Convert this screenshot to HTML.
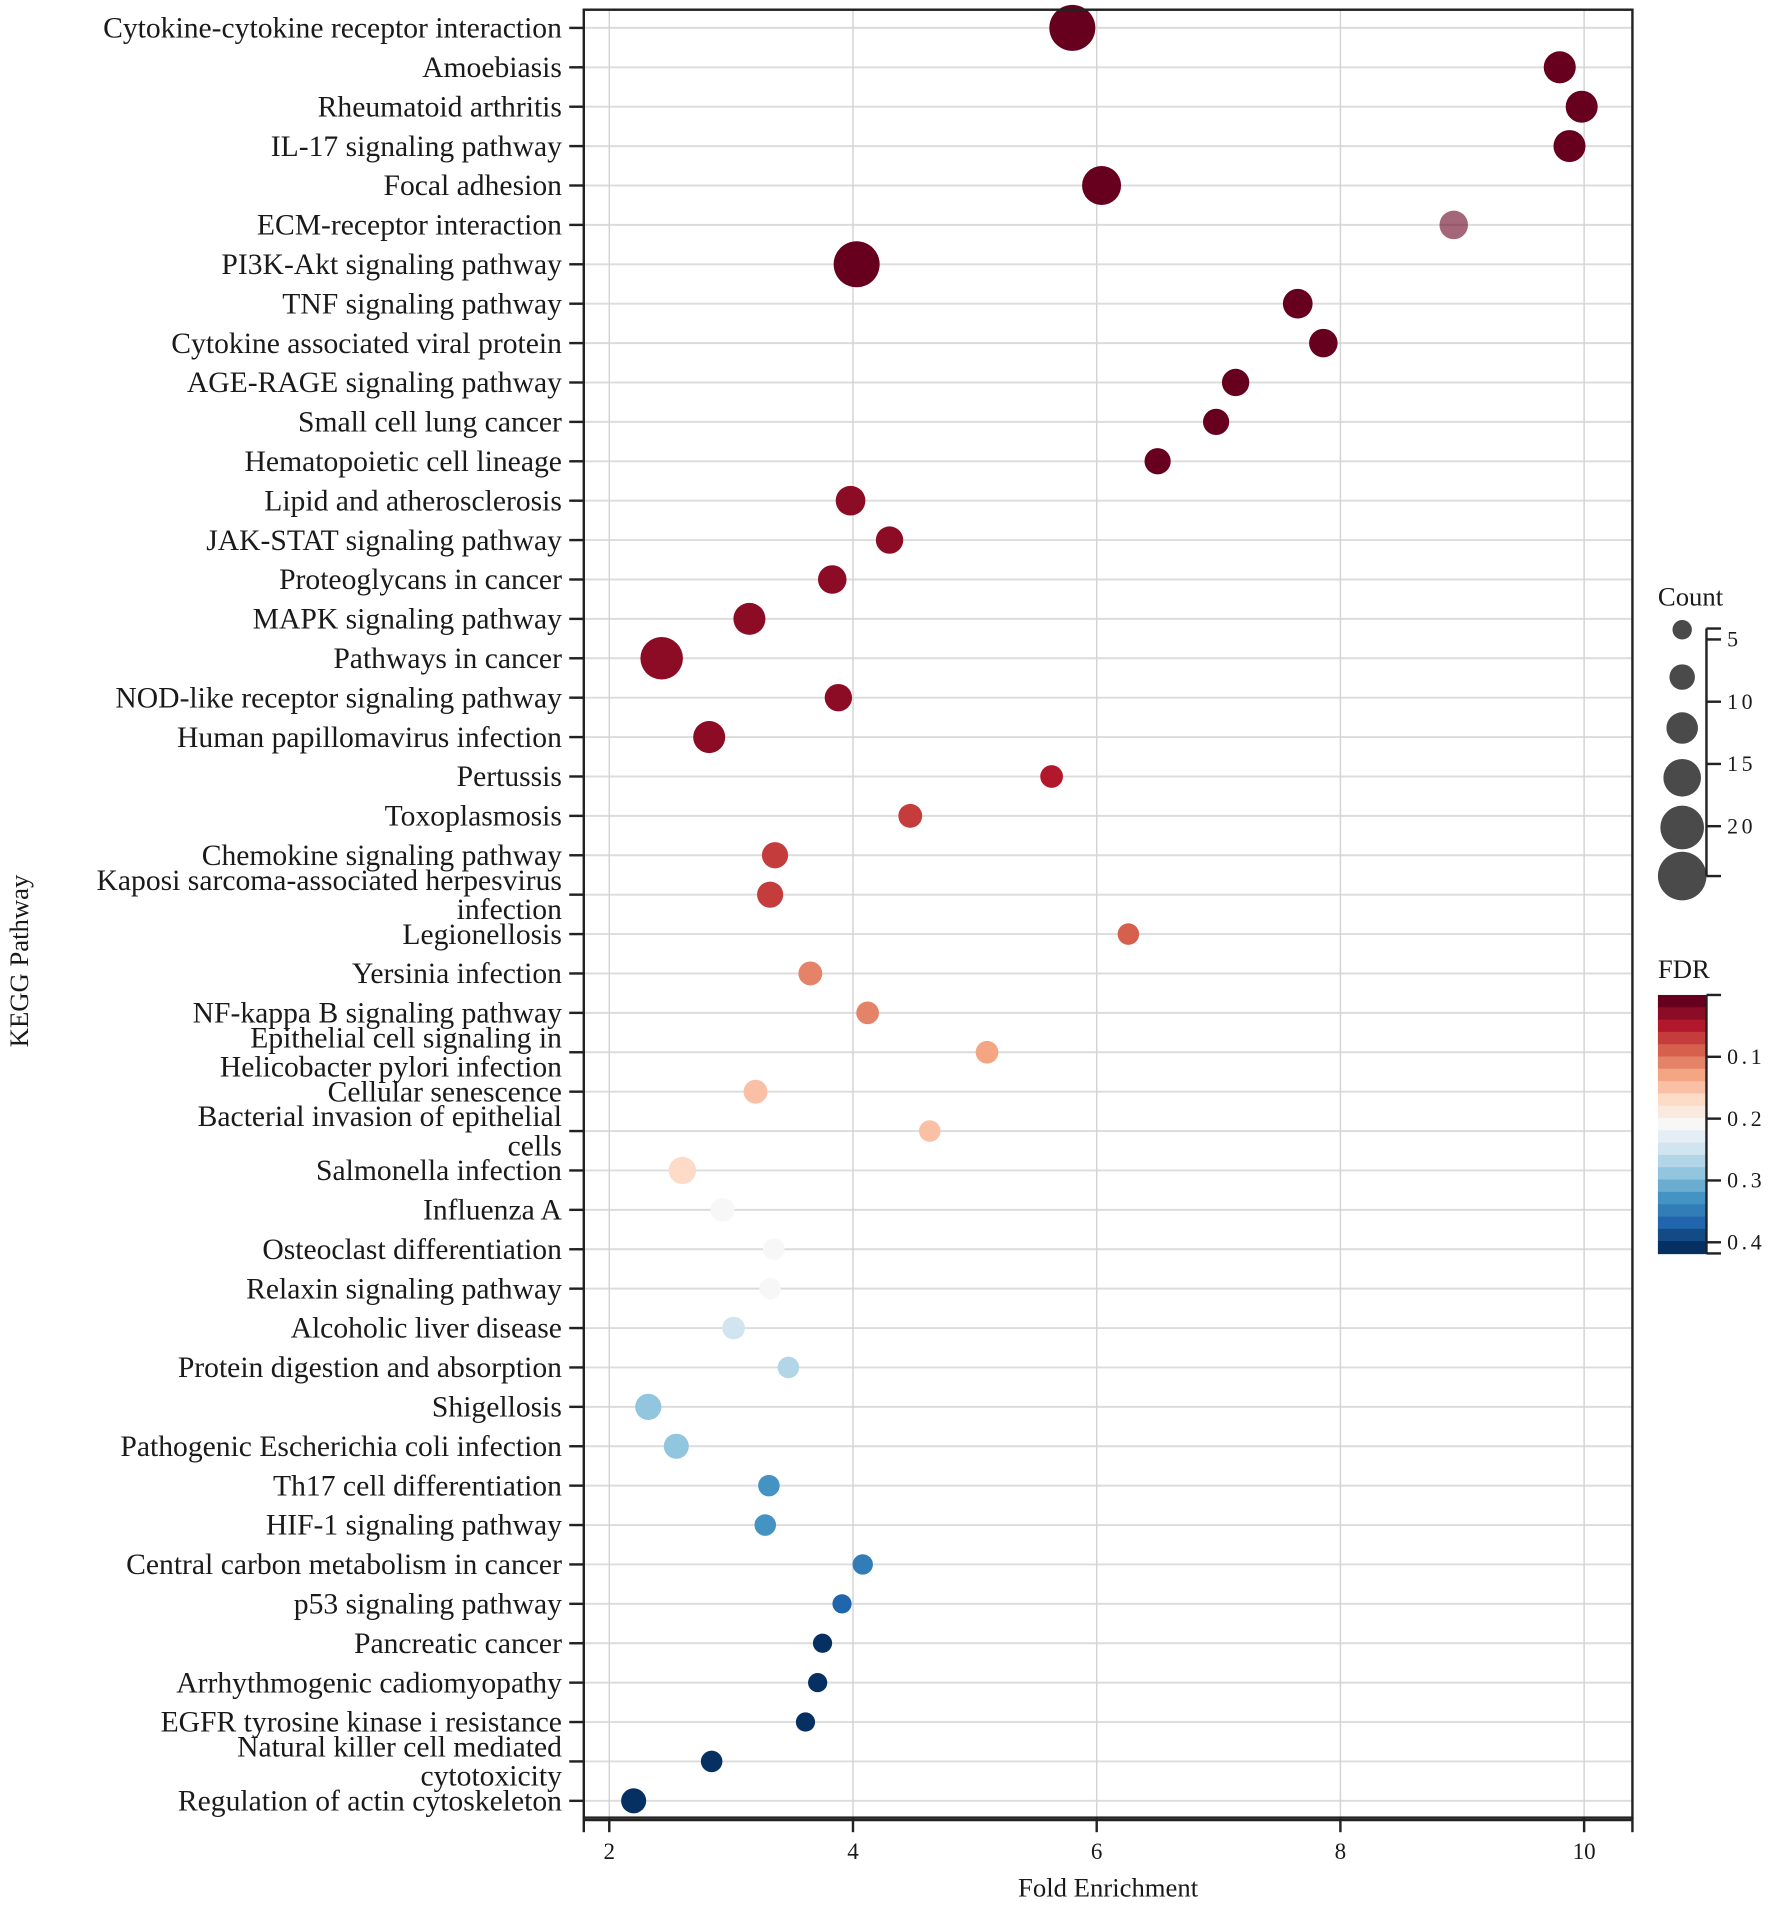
<!DOCTYPE html>
<html><head><meta charset="utf-8"><style>
html,body{margin:0;padding:0;background:#fff}
svg{display:block}
text{font-family:"Liberation Serif",serif;fill:#1a1a1a}
</style></head><body>
<svg id="chart" width="1772" height="1905" viewBox="0 0 1460 1570" preserveAspectRatio="none" xmlns="http://www.w3.org/2000/svg">
<g id="grid"></g>
<g id="dots"></g>
<g id="axes"></g>
<g id="legend"></g>
</svg>
<script>
const pathways = ["Cytokine-cytokine receptor interaction","Amoebiasis","Rheumatoid arthritis","IL-17 signaling pathway","Focal adhesion","ECM-receptor interaction","PI3K-Akt signaling pathway","TNF signaling pathway","Cytokine associated viral protein","AGE-RAGE signaling pathway","Small cell lung cancer","Hematopoietic cell lineage","Lipid and atherosclerosis","JAK-STAT signaling pathway","Proteoglycans in cancer","MAPK signaling pathway","Pathways in cancer","NOD-like receptor signaling pathway","Human papillomavirus infection","Pertussis","Toxoplasmosis","Chemokine signaling pathway","Kaposi sarcoma-associated herpesvirus|infection","Legionellosis","Yersinia infection","NF-kappa B signaling pathway","Epithelial cell signaling in|Helicobacter pylori infection","Cellular senescence","Bacterial invasion of epithelial|cells","Salmonella infection","Influenza A","Osteoclast differentiation","Relaxin signaling pathway","Alcoholic liver disease","Protein digestion and absorption","Shigellosis","Pathogenic Escherichia coli infection","Th17 cell differentiation","HIF-1 signaling pathway","Central carbon metabolism in cancer","p53 signaling pathway","Pancreatic cancer","Arrhythmogenic cadiomyopathy","EGFR tyrosine kinase i resistance","Natural killer cell mediated|cytotoxicity","Regulation of actin cytoskeleton"];
const foldEnrichment = [5.8,9.8,9.98,9.88,6.04,8.93,4.03,7.65,7.86,7.14,6.98,6.5,3.98,4.3,3.83,3.15,2.43,3.88,2.82,5.63,4.47,3.36,3.32,6.26,3.65,4.12,5.1,3.2,4.63,2.6,2.93,3.35,3.32,3.02,3.47,2.32,2.55,3.31,3.28,4.08,3.91,3.75,3.71,3.61,2.84,2.2];
const counts = [27,15,15,15,21,12,27,13,12,11,10,10,13,11,12,15,24,11,15,7,8,10,10,6,8,7,7,8,6,11,8,6,6,7,6,10,9,6,6,5,4,4,4,4,6,9];
const fdr = [0.01,0.01,0.01,0.01,0.01,0.01,0.01,0.01,0.01,0.01,0.01,0.01,0.015,0.015,0.02,0.025,0.025,0.025,0.03,0.05,0.055,0.055,0.055,0.075,0.1,0.11,0.12,0.15,0.155,0.16,0.2,0.2,0.2,0.25,0.28,0.29,0.29,0.33,0.33,0.36,0.38,0.41,0.41,0.41,0.41,0.41];
const alpha = [1,1,1,1,1,0.6,1,1,1,1,1,1,1,1,1,1,1,1,1,1,1,1,1,1,1,1,1,1,1,1,1,1,1,1,1,1,1,1,1,1,1,1,1,1,1,1];
const xTicks = [2,4,6,8,10];
const sizeTicks = [5,10,15,20,25];
const fdrTicks = [0.1,0.2,0.3,0.4];

const NS="http://www.w3.org/2000/svg";
function el(tag,attrs,parent,txt){const e=document.createElementNS(NS,tag);for(const k in attrs)e.setAttribute(k,attrs[k]);if(txt!==undefined)e.textContent=txt;parent.appendChild(e);return e;}
const L=481,R=1345,T=8,B=1498;
const xScale=v=>502+(v-2)*100.4;
const yScale=i=>23+i*32.47;
const rScale=c=>6+0.48*c;
const stops=["#67001f","#b2182b","#d6604d","#f4a582","#fddbc7","#f7f7f7","#d1e5f0","#92c5de","#4393c3","#2166ac","#053061"];
function hex(h){return [1,3,5].map(i=>parseInt(h.substr(i,2),16));}
function colorAt(t){t=Math.max(0,Math.min(1,t));const p=t*10,i=Math.min(9,Math.floor(p)),f=p-i;const a=hex(stops[i]),b=hex(stops[i+1]);return "rgb("+a.map((v,k)=>Math.round(v+(b[k]-v)*f)).join(",")+")";}
const FMAX=0.418;
const fdrColor=v=>colorAt(Math.round(v/FMAX*20)/20);

const grid=document.getElementById('grid'),dots=document.getElementById('dots'),axes=document.getElementById('axes'),legend=document.getElementById('legend');
pathways.forEach((p,i)=>{const g=el('line',{x1:L,x2:R,y1:yScale(i),y2:yScale(i),stroke:'#dcdcdc','stroke-width':1.6},grid);

});
xTicks.forEach(v=>{const g=el('line',{x1:xScale(v),x2:xScale(v),y1:T,y2:B,stroke:'#d4d4d4','stroke-width':1.2},grid);

});
pathways.forEach((p,i)=>{const c=el('circle',{cx:xScale(foldEnrichment[i]),cy:yScale(i),r:rScale(counts[i]),fill:fdrColor(fdr[i]),'fill-opacity':alpha[i]},dots);

});
const fr=el('rect',{x:L,y:T,width:R-L,height:B-T,fill:'none',stroke:'#222','stroke-width':2},axes);


const xl=el('line',{x1:L,x2:R,y1:B+2,y2:B+2,stroke:'#222','stroke-width':2},axes);


[L,R].forEach(x=>{el('line',{x1:x,x2:x,y1:B,y2:B+12,stroke:'#222','stroke-width':2},axes);});
xTicks.forEach(v=>{el('line',{x1:xScale(v),x2:xScale(v),y1:B,y2:B+12,stroke:'#222','stroke-width':2},axes);
const t=el('text',{x:xScale(v),y:B+34,'text-anchor':'middle','font-size':19},axes,String(v));

});
const xt=el('text',{x:913,y:1563,'text-anchor':'middle','font-size':22},axes,'Fold Enrichment');


const yt=el('text',{x:0,y:0,'text-anchor':'middle','font-size':22,transform:'translate(23,792) rotate(-90)'},axes,'KEGG Pathway');


const FS=24.4;
pathways.forEach((p,i)=>{const y=yScale(i);el('line',{x1:469,x2:L,y1:y,y2:y,stroke:'#222','stroke-width':2},axes);
const parts=p.split('|');
if(parts.length===1){const t=el('text',{x:463,y:y+8,'text-anchor':'end','font-size':FS},axes,p);

}
else{parts.forEach((s,k)=>{const t=el('text',{x:463,y:y+8+(k===0?-12:12),'text-anchor':'end','font-size':FS},axes,s);

});}
});
const lt=el('text',{x:1366,y:499,'font-size':22},legend,'Count');


const sy=[519,558,600,641,682,722];
[8,10.5,13,15.5,18,20].forEach((r,k)=>{const cc=el('circle',{cx:1386,cy:sy[k],r:r,fill:'#4a4a4a'},legend);

});
el('line',{x1:1406,x2:1406,y1:518,y2:722,stroke:'#222','stroke-width':2},legend);
el('line',{x1:1406,x2:1418,y1:518,y2:518,stroke:'#222','stroke-width':2},legend);
el('line',{x1:1406,x2:1418,y1:722,y2:722,stroke:'#222','stroke-width':2},legend);
sizeTicks.slice(0,4).forEach((v,k)=>{const y=527+k*51.3;el('line',{x1:1406,x2:1418,y1:y,y2:y,stroke:'#222','stroke-width':2},legend);
const t=el('text',{x:1423,y:y+6,'font-size':18,'letter-spacing':3},legend,String(v));

});
const ft=el('text',{x:1366,y:806,'font-size':22},legend,'FDR');


const cbT=820,cbB=1033,nb=21;
for(let k=0;k<nb;k++){const r=el('rect',{x:1366,y:cbT+k*(cbB-cbT)/nb,width:40,height:(cbB-cbT)/nb+0.6,fill:colorAt(k/(nb-1))},legend);

}
el('line',{x1:1406,x2:1406,y1:cbT,y2:cbB,stroke:'#222','stroke-width':2},legend);
[cbT,cbB].forEach(y=>el('line',{x1:1406,x2:1418,y1:y,y2:y,stroke:'#222','stroke-width':2},legend));
fdrTicks.forEach(v=>{const y=cbT+v/FMAX*(cbB-cbT);el('line',{x1:1406,x2:1418,y1:y,y2:y,stroke:'#222','stroke-width':2},legend);
const t=el('text',{x:1423,y:y+6,'font-size':18,'letter-spacing':3},legend,v.toFixed(1));

});
</script>
</body></html>
